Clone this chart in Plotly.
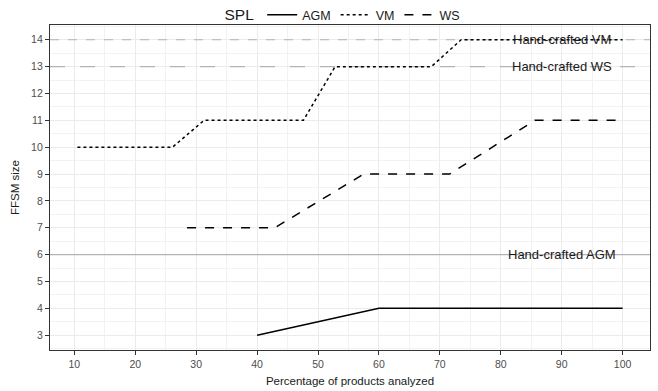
import plotly.graph_objects as go

# Data
agm_x = [40, 60, 100]
agm_y = [3, 4, 4]
vm_x = [10.5, 26.1, 31.3, 47.6, 52.8, 68.6, 73.5, 100]
vm_y = [10, 10, 11, 11, 13, 13, 14, 14]
ws_x = [28.5, 42.9, 57.5, 71.6, 85.6, 100]
ws_y = [7, 7, 9, 9, 11, 11]

hand_labels = ["Hand-crafted VM", "Hand-crafted WS", "Hand-crafted AGM"]
hand_values = [14, 13, 6]
hand_dash = ["dash", "longdash", "solid"]
label_x = 90

x_ticks = [10, 20, 30, 40, 50, 60, 70, 80, 90, 100]
y_ticks = [3, 4, 5, 6, 7, 8, 9, 10, 11, 12, 13, 14]

FONT = "Liberation Sans, Arial, sans-serif"

fig = go.Figure()

for lab, val, dsh in zip(hand_labels, hand_values, hand_dash):
    fig.add_trace(go.Scatter(
        x=[6.0, 104.5], y=[val, val], mode="lines",
        line=dict(color="#b3b3b3", width=1.1, dash=dsh),
        showlegend=False, hoverinfo="skip"))
    fig.add_annotation(x=label_x, y=val, text=lab, showarrow=False,
                       font=dict(family=FONT, size=13, color="#1a1a1a"),
                       xanchor="center", yanchor="middle")

fig.add_trace(go.Scatter(x=agm_x, y=agm_y, mode="lines", name="AGM",
                         line=dict(color="black", width=1.5, dash="solid")))
fig.add_trace(go.Scatter(x=vm_x, y=vm_y, mode="lines", name="VM",
                         line=dict(color="black", width=1.5, dash="dot")))
fig.add_trace(go.Scatter(x=ws_x, y=ws_y, mode="lines", name="WS",
                         line=dict(color="black", width=1.5, dash="dash")))

axis_common = dict(
    showline=True, linecolor="#333333", linewidth=1.2, mirror=True,
    ticks="outside", ticklen=4, tickcolor="#333333", tickwidth=1,
    tickfont=dict(family=FONT, size=10.5, color="#4d4d4d"),
    gridcolor="#ebebeb", gridwidth=1, zeroline=False, automargin=False,
)

fig.update_xaxes(range=[6.0, 104.5], tickvals=x_ticks,
                 title=dict(text="Percentage of products analyzed",
                            font=dict(family=FONT, size=11.5, color="#1a1a1a"), standoff=8),
                 minor=dict(dtick=5, tick0=0, showgrid=True, gridcolor="#f2f2f2", gridwidth=0.8, ticks=""),
                 **axis_common)
fig.update_yaxes(range=[2.45, 14.55], tickvals=y_ticks,
                 title=dict(text="FFSM size",
                            font=dict(family=FONT, size=11.5, color="#1a1a1a"), standoff=9),
                 minor=dict(dtick=0.5, tick0=0, showgrid=True, gridcolor="#f2f2f2", gridwidth=0.8, ticks=""),
                 **axis_common)

fig.update_layout(
    width=658, height=391,
    margin=dict(l=50, r=8, t=25, b=41, autoexpand=False),
    paper_bgcolor="white", plot_bgcolor="white",
    font=dict(family=FONT, color="#1a1a1a"),
    showlegend=True,
    legend=dict(orientation="h", x=0.49, xanchor="center",
                yref="container", y=1.0, yanchor="top",
                title=dict(text="SPL", font=dict(family=FONT, size=15.5, color="#1a1a1a")),
                font=dict(family=FONT, size=12.5, color="#1a1a1a"),
                itemwidth=30, bgcolor="rgba(0,0,0,0)", tracegroupgap=0),
)

fig.write_html("out.html", config={"displayModeBar": False},
               post_script="document.body.style.margin='0';")
